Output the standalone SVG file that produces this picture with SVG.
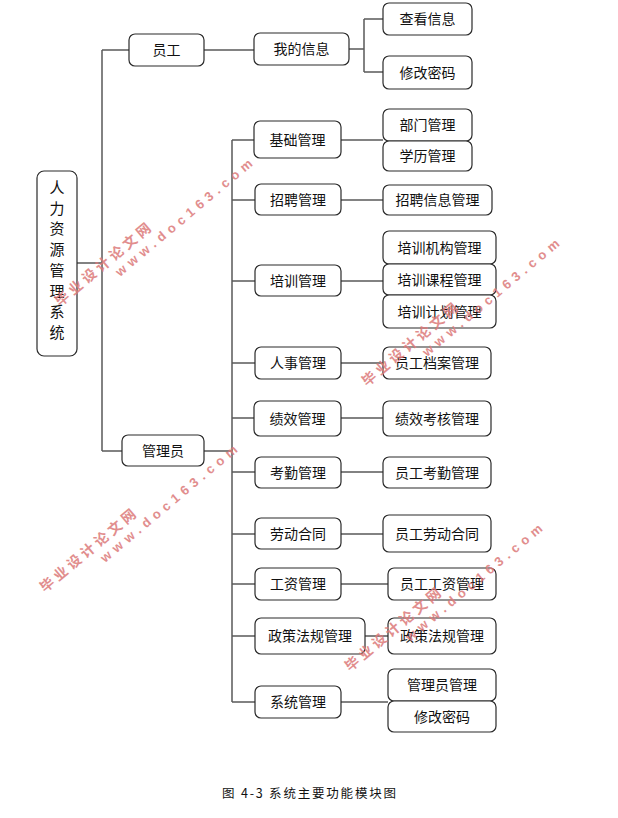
<svg xmlns="http://www.w3.org/2000/svg" width="618" height="818" viewBox="0 0 618 818">
<style>
.b{fill:#fff;stroke:#2a2a2a;stroke-width:1.2}
.t{font-family:"Noto Sans CJK SC","Noto Sans",sans-serif;font-size:14px;fill:#111;text-anchor:middle}
.c{fill:none;stroke:#5a5a5a;stroke-width:1.5}
.w{font-family:"Liberation Sans","Noto Sans CJK SC",sans-serif;font-weight:bold;fill:#dc7a7a;opacity:0.85}
</style>
<rect width="618" height="818" fill="#fff"/>
<g id="connectors">
<path class="c" d="M77,263 H102 M102,50 V451 M102,50 H129 M102,451 H122 M204,50 H254 M349,49 H364 M364,19 V72 M364,19 H383 M364,72 H383 M204,451 H232 M232,140 V702"/>
<path class="c" d="M232,140 H254 M232,200 H255 M232,281 H255 M232,363 H255 M232,418 H254 M232,472 H255 M232,534 H255 M232,584 H255 M232,636 H255 M232,702 H255"/>
<path class="c" d="M341,140 H383 M341,200 H383 M341,281 H383 M341,363 H383 M341,418 H383 M341,472 H383 M341,534 H383 M341,584 H388 M365,636 H388 M341,702 H388"/>
</g>
<g id="root"><rect class="b" x="37" y="171" width="40" height="185" rx="7"/>
<text class="t" style="font-size:15px"><tspan x="57" y="193">人</tspan><tspan x="57" dy="20.7">力</tspan><tspan x="57" dy="20.7">资</tspan><tspan x="57" dy="20.7">源</tspan><tspan x="57" dy="20.7">管</tspan><tspan x="57" dy="20.7">理</tspan><tspan x="57" dy="20.7">系</tspan><tspan x="57" dy="20.7">统</tspan></text></g>
<g id="yuangong"><rect class="b" x="129" y="34" width="75" height="32" rx="6"/><text class="t" x="166.5" y="55">员工</text></g>
<g id="guanliyuan"><rect class="b" x="122" y="435" width="82" height="31" rx="6"/><text class="t" x="163" y="455.5">管理员</text></g>
<g id="wodexinxi"><rect class="b" x="254" y="33" width="95" height="32" rx="6"/><text class="t" x="301.5" y="54">我的信息</text></g>
<g id="chakanxinxi"><rect class="b" x="383" y="3" width="89" height="32" rx="6"/><text class="t" x="427.5" y="24">查看信息</text></g>
<g id="xiugaimima1"><rect class="b" x="383" y="56" width="89" height="33" rx="6"/><text class="t" x="427.5" y="77.5">修改密码</text></g>
<g id="jichuguanli"><rect class="b" x="254" y="121" width="87" height="37" rx="6"/><text class="t" x="297.5" y="144.5">基础管理</text></g>
<g id="bumenguanli"><rect class="b" x="383" y="109" width="89" height="32" rx="6"/><text class="t" x="427.5" y="130">部门管理</text></g>
<g id="xueliguanli"><rect class="b" x="383" y="141" width="89" height="30" rx="6"/><text class="t" x="427.5" y="161">学历管理</text></g>
<g id="zhaopinguanli"><rect class="b" x="255" y="184" width="86" height="31" rx="6"/><text class="t" x="298" y="204.5">招聘管理</text></g>
<g id="zhaopinxinxi"><rect class="b" x="383" y="185" width="109" height="30" rx="6"/><text class="t" x="437.5" y="205">招聘信息管理</text></g>
<g id="peixunguanli"><rect class="b" x="255" y="265" width="86" height="31" rx="6"/><text class="t" x="298" y="285.5">培训管理</text></g>
<g id="peixunjigou"><rect class="b" x="383" y="231" width="113" height="33" rx="6"/><text class="t" x="439.5" y="252.5">培训机构管理</text></g>
<g id="peixunkecheng"><rect class="b" x="383" y="264" width="113" height="31" rx="6"/><text class="t" x="439.5" y="284.5">培训课程管理</text></g>
<g id="peixunjihua"><rect class="b" x="383" y="295" width="113" height="33" rx="6"/><text class="t" x="439.5" y="316.5">培训计划管理</text></g>
<g id="renshiguanli"><rect class="b" x="255" y="347" width="86" height="32" rx="6"/><text class="t" x="298" y="368">人事管理</text></g>
<g id="danganguanli"><rect class="b" x="383" y="347" width="108" height="32" rx="6"/><text class="t" x="437" y="368">员工档案管理</text></g>
<g id="jixiaoguanli"><rect class="b" x="254" y="401" width="87" height="35" rx="6"/><text class="t" x="297.5" y="423.5">绩效管理</text></g>
<g id="kaoheguanli"><rect class="b" x="383" y="401" width="108" height="35" rx="6"/><text class="t" x="437" y="423.5">绩效考核管理</text></g>
<g id="kaoqinguanli"><rect class="b" x="255" y="457" width="86" height="31" rx="6"/><text class="t" x="298" y="477.5">考勤管理</text></g>
<g id="yuangongkaoqin"><rect class="b" x="383" y="457" width="108" height="31" rx="6"/><text class="t" x="437" y="477.5">员工考勤管理</text></g>
<g id="laodonghetong"><rect class="b" x="255" y="518" width="86" height="31" rx="6"/><text class="t" x="298" y="538.5">劳动合同</text></g>
<g id="yuangonglaodong"><rect class="b" x="383" y="515" width="108" height="37" rx="6"/><text class="t" x="437" y="538.5">员工劳动合同</text></g>
<g id="gongziguanli"><rect class="b" x="255" y="568" width="86" height="32" rx="6"/><text class="t" x="298" y="589">工资管理</text></g>
<g id="yuangonggongzi"><rect class="b" x="388" y="568" width="108" height="32" rx="6"/><text class="t" x="442" y="589">员工工资管理</text></g>
<g id="zhengcefagui"><rect class="b" x="255" y="618" width="110" height="36" rx="6"/><text class="t" x="310" y="641">政策法规管理</text></g>
<g id="zhengcefagui2"><rect class="b" x="388" y="618" width="108" height="36" rx="6"/><text class="t" x="442" y="641">政策法规管理</text></g>
<g id="xitongguanli"><rect class="b" x="255" y="686" width="86" height="32" rx="6"/><text class="t" x="298" y="707">系统管理</text></g>
<g id="guanliyuanguanli"><rect class="b" x="388" y="669" width="108" height="32" rx="6"/><text class="t" x="442" y="690">管理员管理</text></g>
<g id="xiugaimima2"><rect class="b" x="388" y="701" width="108" height="31" rx="6"/><text class="t" x="442" y="721.5">修改密码</text></g>
<text x="222" y="798" textLength="174" lengthAdjust="spacing" style="font-family:'Noto Sans CJK SC',sans-serif;font-size:12.5px;fill:#111">图 4-3 系统主要功能模块图</text>
<g id="watermarks">
<text class="w" x="120" y="277" transform="rotate(-40 120 277)" textLength="174" lengthAdjust="spacing" style="font-size:13px">www.doc163.com</text>
<text class="w" x="60" y="307" transform="rotate(-40 60 307)" textLength="120" lengthAdjust="spacing" style="font-size:14px">毕业设计论文网</text>
<text class="w" x="427" y="357" transform="rotate(-40 427 357)" textLength="174" lengthAdjust="spacing" style="font-size:13px">www.doc163.com</text>
<text class="w" x="367" y="387" transform="rotate(-40 367 387)" textLength="120" lengthAdjust="spacing" style="font-size:14px">毕业设计论文网</text>
<text class="w" x="105" y="563" transform="rotate(-40 105 563)" textLength="174" lengthAdjust="spacing" style="font-size:13px">www.doc163.com</text>
<text class="w" x="45" y="593" transform="rotate(-40 45 593)" textLength="120" lengthAdjust="spacing" style="font-size:14px">毕业设计论文网</text>
<text class="w" x="410" y="642" transform="rotate(-40 410 642)" textLength="174" lengthAdjust="spacing" style="font-size:13px">www.doc163.com</text>
<text class="w" x="350" y="672" transform="rotate(-40 350 672)" textLength="120" lengthAdjust="spacing" style="font-size:14px">毕业设计论文网</text>
</g>
</svg>
